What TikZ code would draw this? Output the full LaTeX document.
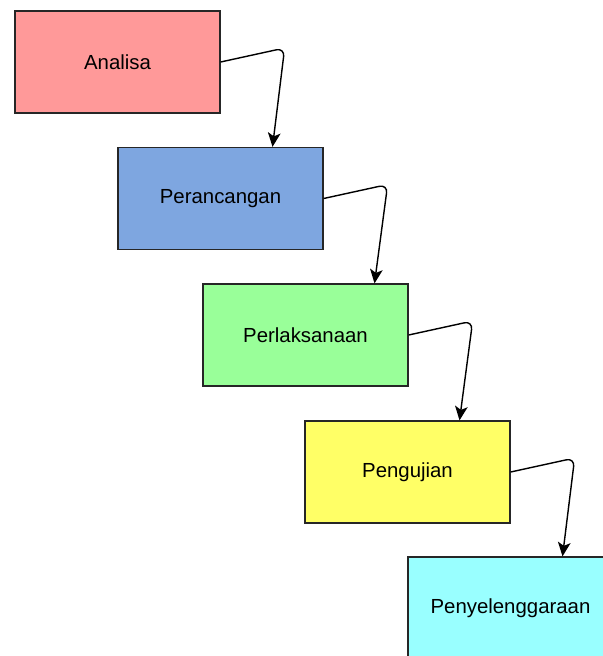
\documentclass[tikz,border=0pt]{standalone}
\usepackage{fontspec}
\setmainfont{Liberation Sans}
\usetikzlibrary{arrows.meta,calc}
\definecolor{redbox}{HTML}{FF9999}
\definecolor{bluebox}{HTML}{7EA6E0}
\definecolor{greenbox}{HTML}{99FF99}
\definecolor{yellowbox}{HTML}{FFFF66}
\definecolor{cyanbox}{HTML}{99FFFF}
\tikzstyle{phase}=[rectangle,draw=black!85,line width=0.9pt,minimum width=5.125cm,minimum height=2.55cm,inner sep=0pt,font=\fontsize{14.5}{17}\selectfont]
\tikzstyle{link}=[draw,line width=1pt,rounded corners=6pt,-{Stealth[length=10pt,width=9pt,inset=2.5pt]}]

\begin{document}
\begin{tikzpicture}[x=0.025cm,y=-0.025cm]

   \useasboundingbox (0,0) rectangle (603,656);
   \clip (0,0) rectangle (603,656);

%phases
    \foreach \pos/\name/\col/\label in {{(117.5,62)/ana/redbox/Analisa}, {(220.5,198.5)/ranc/bluebox/Perancangan}, {(305.5,335)/laks/greenbox/Perlaksanaan}, {(407.5,472)/uji/yellowbox/Pengujian}, {(510.5,608)/sel/cyanbox/Penyelenggaraan}}
        \node[phase,fill=\col] (\name) at \pos {\label};

%connectors
    \foreach \source/\dest/\off in {ana/ranc/52, ranc/laks/69, laks/uji/52, uji/sel/52}
        \path[link] (\source.east) -- ($(\source.east)+(64,-14)$) -- ($(\dest.north)+(\off,0)$);

\end{tikzpicture}
\end{document}
